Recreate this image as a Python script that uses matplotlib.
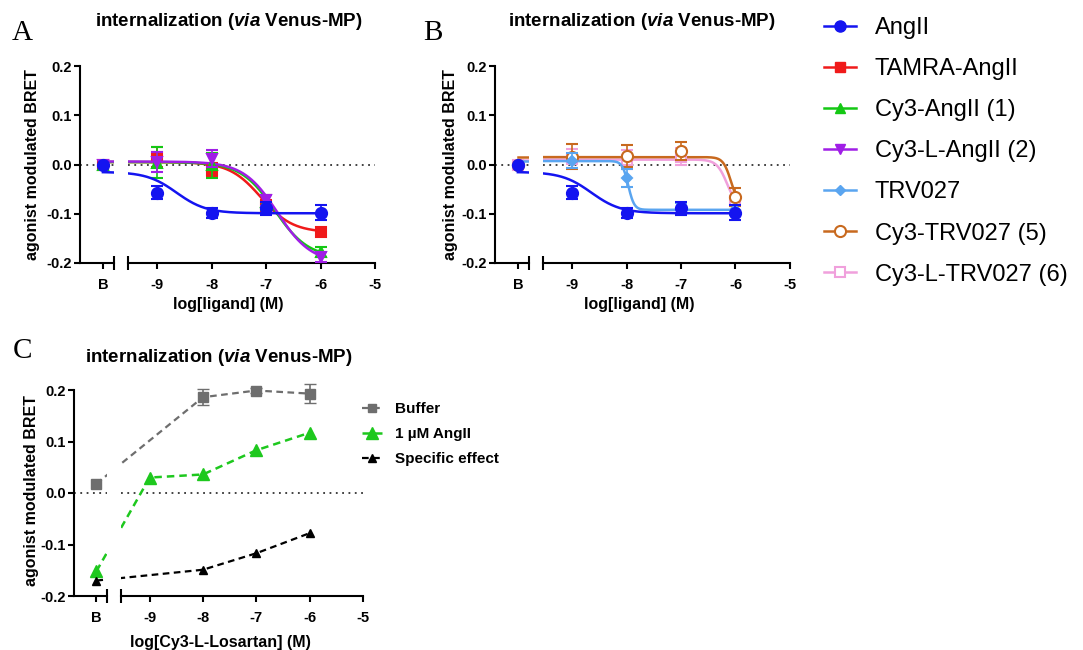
import numpy as np
import matplotlib
matplotlib.use('agg')
import matplotlib.pyplot as plt
from matplotlib.lines import Line2D

plt.rcParams['font.family'] = 'Liberation Sans'
plt.rcParams['font.weight'] = 'bold'
plt.rcParams['mathtext.fontset'] = 'custom'
plt.rcParams['mathtext.rm'] = 'Liberation Sans:bold'
plt.rcParams['mathtext.it'] = 'Liberation Sans:italic:bold'

# ---- data (x = log concentration, -10 stands for buffer "B") ----
log_conc = [-10, -9, -8, -7, -6]

angII = [0.0, -0.057, -0.099, -0.089, -0.098]
angII_err = [0.0, 0.013, 0.010, 0.013, 0.015]
tamra = [0.0, 0.015, -0.011, -0.085, -0.137]
tamra_err = [0.0, 0.020, 0.015, 0.012, 0.005]
cy3 = [0.0, 0.004, -0.002, -0.077, -0.177]
cy3_err = [0.0, 0.031, 0.026, 0.015, 0.010]
cy3L = [0.0, 0.005, 0.012, -0.073, -0.187]
cy3L_err = [0.0, 0.020, 0.018, 0.012, 0.010]

trv = [0.0, 0.008, -0.027, -0.090, -0.093]
trv_err = [0.0, 0.015, 0.018, 0.012, 0.010]
cy3_trv = [0.0, 0.016, 0.017, 0.027, -0.066]
cy3_trv_err = [0.0, 0.025, 0.022, 0.018, 0.018]
cy3L_trv = [0.0, 0.012, 0.010, 0.016, -0.075]
cy3L_trv_err = [0.0, 0.020, 0.020, 0.018, 0.010]

# fit parameters: top, bottom, logEC50, hill
fit_angII = (-0.015, -0.099, -8.65, 1.6)
fit_tamra = (0.005, -0.138, -7.10, 1.5)
fit_cy3 = (0.005, -0.190, -6.85, 1.4)
fit_cy3L = (0.006, -0.200, -6.80, 1.4)
fit_trv = (0.007, -0.092, -7.97, 8.0)
fit_cy3_trv = (0.015, -0.085, -6.08, 6.0)
fit_cy3L_trv = (0.010, -0.090, -6.15, 4.5)

# panel C
c_buffer_x = [-10, -8, -7, -6]
c_buffer = [0.018, 0.186, 0.199, 0.193]
c_buffer_err = [0.0, 0.015, 0.005, 0.018]
c_angII_x = [-10, -9, -8, -7, -6]
c_angII = [-0.152, 0.030, 0.036, 0.083, 0.117]
c_spec_x = [-10, -8, -7, -6]
c_spec = [-0.170, -0.149, -0.117, -0.078]

W, H = 1083, 650
XMIN, CUT_L, CUT_R, XMAX = -10.42, -9.8, -9.54, -5

fig = plt.figure(figsize=(W / 100, H / 100), dpi=100)


def sigmoid(x, top, bottom, ec50, hill):
    return bottom + (top - bottom) / (1 + 10 ** ((x - ec50) * hill))


def style_axis(ax):
    ax.set_facecolor('none')
    ax.tick_params(which='major', direction='out', length=4.5, width=1.5,
                   labelsize=10.5)
    ax.tick_params(axis='x', pad=6)
    ax.tick_params(axis='y', pad=1.5)
    for s in ax.spines.values():
        s.set_linewidth(1.5)
    ax.spines['top'].set_visible(False)
    ax.spines['right'].set_visible(False)


def broken_axes(x_yaxis, scale, y_top, y_bot):
    def box(a, b):
        x0 = x_yaxis + (a - XMIN) * scale
        x1 = x_yaxis + (b - XMIN) * scale
        return [x0 / W, 1 - y_bot / H, (x1 - x0) / W, (y_bot - y_top) / H]

    axL = fig.add_axes(box(XMIN, CUT_L))
    axR = fig.add_axes(box(CUT_R, XMAX))
    for ax in (axL, axR):
        style_axis(ax)
        ax.set_ylim(-0.2, 0.2)
        ax.axhline(0, color='#333333', lw=1.3, ls=(0, (1, 2.5)), zorder=0)
    axL.set_xlim(XMIN, CUT_L)
    axR.set_xlim(CUT_R, XMAX)
    axL.set_yticks([-0.2, -0.1, 0.0, 0.1, 0.2])
    axL.set_yticklabels(['-0.2', '-0.1', '0.0', '0.1', '0.2'])
    axL.set_xticks([-10])
    axL.set_xticklabels(['B'])
    axL.set_xticks([CUT_L], minor=True)
    axR.set_xticks([-9, -8, -7, -6, -5])
    axR.set_xticklabels(['-9', '-8', '-7', '-6', '-5'])
    axR.set_xticks([CUT_R], minor=True)
    axR.spines['left'].set_visible(False)
    axR.set_yticks([])
    for ax in (axL, axR):
        ax.tick_params(which='minor', direction='inout', length=10, width=1.5)
    return axL, axR


def fit_series(axL, axR, y, err, fit, color, marker, ms, mfc=None, z=3):
    xl = np.linspace(-10, CUT_L, 20)
    xr = np.linspace(CUT_R, -6, 400)
    axL.plot(xl, sigmoid(xl, *fit), color=color, lw=1.8, zorder=z)
    axR.plot(xr, sigmoid(xr, *fit), color=color, lw=1.8, zorder=z)
    face = color if mfc is None else mfc
    axL.plot(log_conc[:1], y[:1], marker, color=color, ms=ms, mfc=face, mew=1.5,
             clip_on=False, zorder=z + 1)
    axR.errorbar(log_conc[1:], y[1:], yerr=err[1:], fmt=marker, color=color,
                 ms=ms, mfc=face, mew=1.5, capsize=4, elinewidth=1.2,
                 clip_on=False, zorder=z + 1)


def px_text(x, y, s, **kw):
    fig.text(x / W, 1 - y / H, s, ha='center', va='center', **kw)


title = r"internalization ($\mathit{via}$ Venus-MP)"

col = {'angII': '#1414f0', 'tamra': '#f01a1a', 'cy3': '#14c814',
       'cy3L': '#a01ee6', 'trv': '#5aa5f0', 'cy3_trv': '#c8691e',
       'cy3L_trv': '#f0a0dc'}

# ---- panel A ----
aL, aR = broken_axes(80, 54.5, 66, 263)
fit_series(aL, aR, tamra, tamra_err, fit_tamra, col['tamra'], 's', 7, z=3)
fit_series(aL, aR, cy3, cy3_err, fit_cy3, col['cy3'], '^', 7.5, z=4)
fit_series(aL, aR, cy3L, cy3L_err, fit_cy3L, col['cy3L'], 'v', 7.5, z=5)
fit_series(aL, aR, angII, angII_err, fit_angII, col['angII'], 'o', 8, z=6)
px_text(22, 33, 'A', family='Liberation Serif', weight='normal', fontsize=21)
px_text(229, 22, title, fontsize=13.5)
px_text(33, 165, 'agonist modulated BRET', fontsize=11.5, rotation=90)
px_text(228, 305, 'log[ligand] (M)', fontsize=11.5)

# ---- panel B ----
bL, bR = broken_axes(495, 54.4, 66, 263)
fit_series(bL, bR, cy3L_trv, cy3L_trv_err, fit_cy3L_trv, col['cy3L_trv'], 's', 7,
           mfc='white', z=3)
fit_series(bL, bR, cy3_trv, cy3_trv_err, fit_cy3_trv, col['cy3_trv'], 'o', 8,
           mfc='white', z=4)
fit_series(bL, bR, trv, trv_err, fit_trv, col['trv'], 'D', 5, z=5)
fit_series(bL, bR, angII, angII_err, fit_angII, col['angII'], 'o', 8, z=6)
px_text(433, 33, 'B', family='Liberation Serif', weight='normal', fontsize=21)
px_text(642, 22, title, fontsize=13.5)
px_text(450, 165, 'agonist modulated BRET', fontsize=11.5, rotation=90)
px_text(639, 305, 'log[ligand] (M)', fontsize=11.5)

handles = [
    Line2D([], [], color=col['angII'], marker='o', ms=8, lw=1.8),
    Line2D([], [], color=col['tamra'], marker='s', ms=7, lw=1.8),
    Line2D([], [], color=col['cy3'], marker='^', ms=7.5, lw=1.8),
    Line2D([], [], color=col['cy3L'], marker='v', ms=7.5, lw=1.8),
    Line2D([], [], color=col['trv'], marker='D', ms=5, lw=1.8),
    Line2D([], [], color=col['cy3_trv'], marker='o', ms=8, mfc='white', mew=1.5, lw=1.8),
    Line2D([], [], color=col['cy3L_trv'], marker='s', ms=7, mfc='white', mew=1.5, lw=1.8),
]
labels = ['AngII', 'TAMRA-AngII', 'Cy3-AngII (1)', 'Cy3-L-AngII (2)', 'TRV027',
          'Cy3-TRV027 (5)', 'Cy3-L-TRV027 (6)']
fig.legend(handles, labels, loc='upper left', bbox_to_anchor=(824 / W, 1 - 17 / H),
           frameon=False, prop={'family': 'Liberation Sans', 'weight': 'normal', 'size': 17},
           handlelength=1.35, handletextpad=0.8, labelspacing=0.81,
           borderpad=0, borderaxespad=0)

# ---- panel C ----
cL, cR = broken_axes(74, 53.3, 390, 596)
gray, green = '#6e6e6e', '#1ec81e'
dash = (0, (3, 2))
for ax in (cL, cR):
    lo, hi = ax.get_xlim()
    ax.plot(c_buffer_x, c_buffer, color=gray, lw=1.6, ls=dash, zorder=2)
    ax.plot(c_angII_x, c_angII, color=green, lw=1.8, ls=dash, zorder=2)
    ax.plot(c_spec_x, c_spec, color='black', lw=1.6, ls=dash, zorder=2)
    keep = [i for i, x in enumerate(c_buffer_x) if lo <= x <= hi and c_buffer_err[i] > 0]
    ax.errorbar([c_buffer_x[i] for i in keep], [c_buffer[i] for i in keep],
                yerr=[c_buffer_err[i] for i in keep], fmt='s', color=gray, ms=6.5,
                capsize=4, elinewidth=1.2, clip_on=False, zorder=4)
    keep = [i for i, x in enumerate(c_buffer_x) if lo <= x <= hi and c_buffer_err[i] == 0]
    ax.plot([c_buffer_x[i] for i in keep], [c_buffer[i] for i in keep], 's',
            color=gray, ms=6.5, clip_on=False, zorder=4)
    keep = [i for i, x in enumerate(c_angII_x) if lo <= x <= hi]
    ax.plot([c_angII_x[i] for i in keep], [c_angII[i] for i in keep], '^',
            color=green, ms=9, clip_on=False, zorder=5)
    keep = [i for i, x in enumerate(c_spec_x) if lo <= x <= hi]
    ax.plot([c_spec_x[i] for i in keep], [c_spec[i] for i in keep], '^',
            color='black', ms=6, clip_on=False, zorder=6)

px_text(22, 351, 'C', family='Liberation Serif', weight='normal', fontsize=21)
px_text(219, 358, title, fontsize=13.5)
px_text(32, 491, 'agonist modulated BRET', fontsize=11.5, rotation=90)
px_text(220, 642, 'log[Cy3-L-Losartan] (M)', fontsize=11.5)

c_handles = [
    Line2D([], [], color=gray, marker='s', ms=6, lw=1.6, ls=dash),
    Line2D([], [], color=green, marker='^', ms=8, lw=1.8, ls=dash),
    Line2D([], [], color='black', marker='^', ms=5.5, lw=1.6, ls=dash),
]
fig.legend(c_handles, ['Buffer', '1 µM AngII', 'Specific effect'], loc='upper left',
           bbox_to_anchor=(362 / W, 1 - 402 / H), frameon=False,
           prop={'family': 'Liberation Sans', 'weight': 'bold', 'size': 11},
           handlelength=1.35, handletextpad=0.8, labelspacing=0.72,
           borderpad=0, borderaxespad=0)

fig.savefig('out.png', dpi=100)
